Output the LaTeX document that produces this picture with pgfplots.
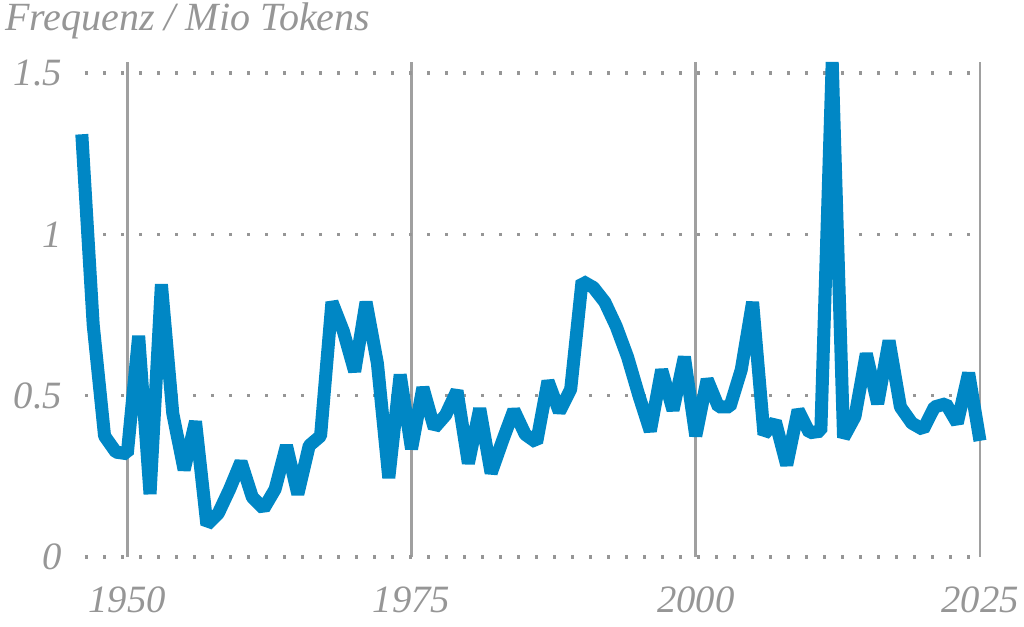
\documentclass[border=0pt]{standalone}
\usepackage{fontspec}
\setmainfont{Liberation Serif}
\usepackage{pgfplots}
\pgfplotsset{compat=1.18}
\usepackage{pgfplotstable}
\definecolor{lineblue}{RGB}{0,135,197}
\definecolor{txtgray}{RGB}{150,150,150}
\definecolor{gridgray}{RGB}{160,160,160}
\pgfplotstableread{
year val
1946 1.31
1947 0.72
1948 0.375
1949 0.325
1950 0.32
1951 0.685
1952 0.195
1953 0.845
1954 0.445
1955 0.27
1956 0.42
1957 0.10
1958 0.135
1959 0.21
1960 0.295
1961 0.185
1962 0.15
1963 0.21
1964 0.345
1965 0.195
1966 0.345
1967 0.375
1968 0.79
1969 0.70
1970 0.575
1971 0.79
1972 0.60
1973 0.245
1974 0.565
1975 0.335
1976 0.525
1977 0.40
1978 0.44
1979 0.515
1980 0.29
1981 0.46
1982 0.26
1983 0.36
1984 0.455
1985 0.38
1986 0.355
1987 0.545
1988 0.45
1989 0.52
1990 0.855
1991 0.835
1992 0.79
1993 0.715
1994 0.62
1995 0.50
1996 0.39
1997 0.58
1998 0.455
1999 0.62
2000 0.375
2001 0.55
2002 0.465
2003 0.465
2004 0.58
2005 0.79
2006 0.38
2007 0.42
2008 0.285
2009 0.455
2010 0.385
2011 0.39
2012 1.534
2013 0.37
2014 0.435
2015 0.63
2016 0.475
2017 0.67
2018 0.465
2019 0.415
2020 0.395
2021 0.465
2022 0.475
2023 0.415
2024 0.57
2025 0.36
}\freqdata
\begin{document}
\begin{tikzpicture}
\path[use as bounding box] (-63.75pt,-52.5pt) rectangle (704.25pt,417.75pt);
\begin{axis}[
  at={(0,0)}, anchor=south west,
  scale only axis,
  width=671.25pt, height=371.25pt,
  xmin=1946.28, xmax=2025,
  ymin=0, ymax=1.534,
  clip=false,
  axis line style={draw=none},
  tick style={draw=none},
  xtick={1950,1975,2000,2025},
  ytick={0,0.5,1,1.5},
  xmajorgrids, ymajorgrids,
  x grid style={gridgray, line width=2pt, solid},
  y grid style={txtgray, line width=2.5pt, dash pattern=on 2.5pt off 11pt},
  /pgf/number format/assume math mode=true,
  /pgf/number format/1000 sep={},
  ticklabel style={font=\fontsize{29}{34}\selectfont\itshape, text=txtgray},
  yticklabel style={anchor=east, inner sep=0pt, xshift=-17pt},
  xticklabel style={anchor=north, inner sep=0pt, yshift=-22.5pt},
]
\addplot[color=lineblue, line width=9.75pt, line join=bevel, line cap=butt, no markers] table[x=year, y=val] {\freqdata};
\end{axis}
\node[anchor=base west, inner sep=0pt, text=txtgray, font=\fontsize{30}{35}\selectfont\itshape] at (-60pt,395pt) {Frequenz / Mio Tokens};
\end{tikzpicture}
\end{document}
